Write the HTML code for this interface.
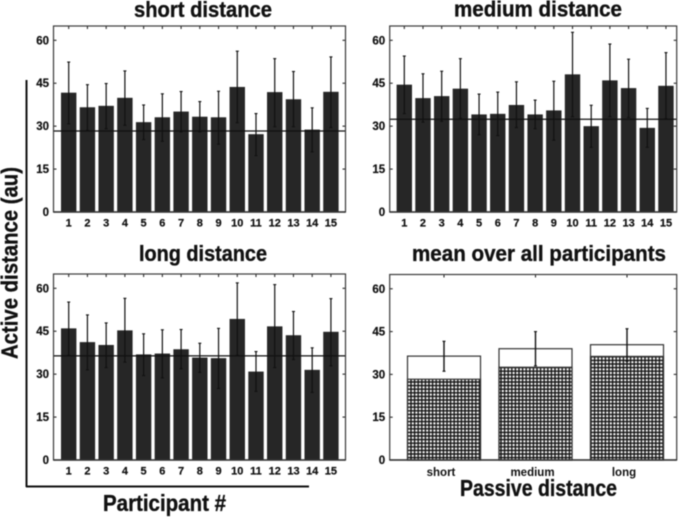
<!DOCTYPE html>
<html lang="en">
<head>
<meta charset="utf-8">
<title>Active distance by participant</title>
<style>
html,body{margin:0;padding:0;background:#fff;width:682px;height:517px;overflow:hidden}
svg{display:block;font-family:"Liberation Sans",sans-serif}
</style>
</head>
<body>
<svg id="figure" xmlns="http://www.w3.org/2000/svg" width="682" height="517" viewBox="0 0 682 517">
<defs>
<pattern id="checks" patternUnits="userSpaceOnUse" width="3.6" height="3.6" x="0.6" y="0.4">
<rect width="3.6" height="3.6" fill="#111"/>
<rect x="0.7" y="0.7" width="2.2" height="2.2" fill="#fff"/>
</pattern>
</defs>
<g id="root" style="filter:blur(.4px)"></g>
</svg>
<script>
const participants = [1,2,3,4,5,6,7,8,9,10,11,12,13,14,15];
const yTicks = [0,15,30,45,60];
const passiveLabels = ["short","medium","long"];

const shortMeans = [41.7,36.6,37.1,39.9,31.4,33.1,35.1,33.3,33.1,43.7,27.2,41.9,39.4,28.8,42];
const shortUpper = [52.4,44.5,44.9,49.3,37.4,41.3,42.1,38.6,42.2,56.2,34.4,53.6,49.1,36.4,54.2];
const shortLower = [30.8,28.5,29.1,30.3,25.3,24.7,28,28,23.7,31.2,19.7,29.8,29.8,21,29.5];
const shortPassive = 28.3;

const mediumMeans = [44.5,39.8,40.5,43.1,34.1,34.3,37.4,34.1,35.5,48.1,30,46,43.3,29.4,44.1];
const mediumUpper = [54.5,48.3,49.2,53.6,41.2,41.9,45.5,39.1,45.7,62.8,37.3,58.7,53.4,36.2,55.7];
const mediumLower = [34.4,31.4,31.7,32.7,27,26.7,29.5,29.1,25.1,33.3,22.6,33.3,33,22.6,32.6];
const mediumPassive = 32.4;

const longMeans = [46,41.2,40.2,45.3,36.9,37.2,38.7,35.8,35.6,49.3,30.9,46.7,43.6,31.5,44.8];
const longUpper = [55.2,50.7,47.9,56.5,44.1,45.5,45.6,40.8,46,61.9,37.9,61.3,51.9,39.2,56.4];
const longLower = [36.6,31.5,32.3,34.2,29.5,28.7,31.9,30.6,25,36.6,24,32.3,35.1,23.6,32.9];
const longPassive = 36.4;

const overallActive = [36.4,39,40.4];
const overallPassive = [28.3,32.5,36.3];
const overallUpper = [41.6,45,46];
const overallLower = [31.1,33,34.6];

const NS = "http://www.w3.org/2000/svg";
const root = document.getElementById("root");
const DARK = "#2b2b2b";

function make(tag, props, parent) {
  const el = document.createElementNS(NS, tag);
  for (const k in props) el.setAttribute(k, props[k]);
  (parent || root).appendChild(el);
  return el;
}
function group(name) {
  const g = make("g", {});
  
  
  return g;
}
function label(parent, name, x, y, str, size, anchor, extra) {
  const t = make("text", Object.assign({x:x, y:y, "font-size":size, "font-weight":"bold", "text-anchor":anchor, fill:"#111"}, extra || {}), parent);
  t.textContent = str;
  
  
  return t;
}
function line(parent, x1, y1, x2, y2, w, color) {
  return make("line", {x1:x1, y1:y1, x2:x2, y2:y2, stroke:color || DARK, "stroke-width":w}, parent);
}
function scaleY(top, bottom) {
  return v => bottom - (v / 65) * (bottom - top);
}
function heavy(t) {
  t.setAttribute("stroke", "#111");
  t.setAttribute("stroke-width", "0.35");
  t.setAttribute("lengthAdjust", "spacingAndGlyphs");
}
function frame(g, L, R, T, B, y) {
  yTicks.forEach(v => {
    line(g, L, y(v), L + 3, y(v), 1.1);
    line(g, R - 3, y(v), R, y(v), 1.1);
    const tl = label(g, "y-tick-label-" + v, L - 4.5, y(v) + 4, String(v), 11.5, "end");
    tl.setAttribute("stroke", "#111");
    tl.setAttribute("stroke-width", "0.2");
  });
  const box = make("rect", {x:L, y:T, width:R - L, height:B - T, fill:"none", stroke:"#3a3a3a", "stroke-width":1.2}, g);
  
  
  line(g, L, B, R, B, 1.6, "#333");
}

function participantPanel(name, title, titleX, titleW, titleY, L, R, T, B, x0, step, means, upper, lower, passive) {
  const g = group(name);
  const y = scaleY(T, B);
  const x = p => x0 + (p - 1) * step;
  const bw = 15.4;
  participants.forEach((p, i) => {
    line(g, x(p), T, x(p), T + 3, 1.1);
    const bar = make("rect", {x:x(p) - bw / 2, y:y(means[i]), width:bw, height:B - y(means[i]), fill:"#262626"}, g);
    
    
    const tl = label(g, "x-tick-label-" + p, x(p), B + 14.5, String(p), 11, "middle");
    tl.setAttribute("stroke", "#111");
    tl.setAttribute("stroke-width", "0.2");
  });
  participants.forEach((p, i) => {
    const e = make("g", {}, g);
    
    
    line(e, x(p), y(upper[i]), x(p), y(lower[i]), 1.2, "#111");
    line(e, x(p) - 1.5, y(upper[i]), x(p) + 1.5, y(upper[i]), 1.1, "#111");
    line(e, x(p) - 1.5, y(lower[i]), x(p) + 1.5, y(lower[i]), 1.1, "#111");
  });
  const ref = line(g, L, y(passive), R, y(passive), 1.3, "#111");
  
  
  frame(g, L, R, T, B, y);
  const t = label(g, "panel-title", titleX, titleY, title, 22, "start");
  t.setAttribute("textLength", titleW);
  heavy(t);
}

participantPanel("panel-short", "short distance", 134, 138, 17, 53.5, 345.5, 26, 212, 68.7, 18.73, shortMeans, shortUpper, shortLower, shortPassive);
participantPanel("panel-medium", "medium distance", 454, 168, 16.5, 389.7, 676.7, 26, 212, 404.3, 18.69, mediumMeans, mediumUpper, mediumLower, mediumPassive);
participantPanel("panel-long", "long distance", 139, 128, 261, 53.5, 345.5, 274, 460, 68.7, 18.73, longMeans, longUpper, longLower, longPassive);

(function () {
  const L = 389.7, R = 676.7, T = 274.5, B = 460;
  const g = group("panel-mean");
  const y = scaleY(T, B);
  const x = i => 444 + i * 91.5;
  const bw = 73;
  passiveLabels.forEach((name, i) => {
    line(g, x(i), T, x(i), T + 3, 1.1);
    const a = make("rect", {x:x(i) - bw / 2, y:y(overallActive[i]), width:bw, height:B - y(overallActive[i]), fill:"#fff", stroke:"#333", "stroke-width":1.2}, g);
    
    
    const p = make("rect", {x:x(i) - bw / 2, y:y(overallPassive[i]), width:bw, height:B - y(overallPassive[i]), fill:"url(#checks)", stroke:"#333", "stroke-width":1.2}, g);
    
    
    const e = make("g", {}, g);
    
    
    line(e, x(i), y(overallUpper[i]), x(i), y(overallLower[i]), 1.4, "#111");
    line(e, x(i) - 1.5, y(overallUpper[i]), x(i) + 1.5, y(overallUpper[i]), 1.1, "#111");
    line(e, x(i) - 1.5, y(overallLower[i]), x(i) + 1.5, y(overallLower[i]), 1.1, "#111");
    label(g, "x-tick-label-" + name, x(i) - 3, 476, name, 11.5, "middle");
  });
  frame(g, L, R, T, B, y);
  const t = label(g, "panel-title", 412, 261, "mean over all participants", 22, "start");
  t.setAttribute("textLength", 254);
  heavy(t);
})();

(function () {
  const g = group("shared-axes");
  const v = line(g, 26.5, 80, 26.5, 487, 2, "#111");
  
  
  const h = line(g, 26, 486.5, 309, 486.5, 2, "#111");
  
  
  const yt = label(g, "y-axis-title", 0, 0, "Active distance (au)", 23, "start", {transform:"translate(17.5 359) rotate(-90)"});
  yt.setAttribute("textLength", 192);
  heavy(yt);
  const xt = label(g, "x-axis-title", 103, 511, "Participant #", 23, "start");
  xt.setAttribute("textLength", 123);
  heavy(xt);
  const pt = label(g, "mean-panel-x-axis-title", 460, 496, "Passive distance", 23, "start");
  pt.setAttribute("textLength", 157);
  heavy(pt);
})();
</script>
</body>
</html>
